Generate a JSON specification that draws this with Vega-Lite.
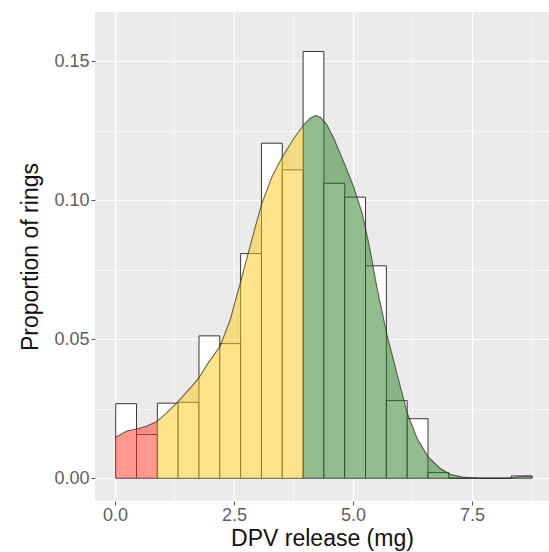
{
  "$schema": "https://vega.github.io/schema/vega-lite/v6.json",
  "width": 454,
  "height": 489,
  "autosize": {"type": "none"},
  "padding": {"left": 95, "top": 12, "right": 0, "bottom": 51},
  "config": {
    "view": {"fill": "#EBEBEB", "stroke": null},
    "font": "Liberation Sans",
    "axis": {
      "grid": true,
      "gridColor": "#FFFFFF",
      "domain": false,
      "tickSize": 4,
      "tickColor": "#555555",
      "labelFontSize": 18,
      "labelColor": "#5E5E5E",
      "labelPadding": 1,
      "titleFontSize": 23,
      "titleFontWeight": "normal",
      "titleColor": "#111111"
    }
  },
  "datasets": {
    "bins": [
      {"x0": 0.015, "x1": 0.4525, "p": 0.0268},
      {"x0": 0.4525, "x1": 0.89, "p": 0.0157},
      {"x0": 0.89, "x1": 1.3275, "p": 0.0270},
      {"x0": 1.3275, "x1": 1.765, "p": 0.0273},
      {"x0": 1.765, "x1": 2.2025, "p": 0.0512},
      {"x0": 2.2025, "x1": 2.64, "p": 0.0484},
      {"x0": 2.64, "x1": 3.0775, "p": 0.0808},
      {"x0": 3.0775, "x1": 3.515, "p": 0.1205},
      {"x0": 3.515, "x1": 3.9525, "p": 0.1109},
      {"x0": 3.9525, "x1": 4.39, "p": 0.1535},
      {"x0": 4.39, "x1": 4.8275, "p": 0.1061},
      {"x0": 4.8275, "x1": 5.265, "p": 0.1011},
      {"x0": 5.265, "x1": 5.7025, "p": 0.0764},
      {"x0": 5.7025, "x1": 6.14, "p": 0.0279},
      {"x0": 6.14, "x1": 6.5775, "p": 0.0214},
      {"x0": 6.5775, "x1": 7.015, "p": 0.0020},
      {"x0": 7.015, "x1": 7.4525, "p": 0},
      {"x0": 7.4525, "x1": 7.89, "p": 0},
      {"x0": 7.89, "x1": 8.3275, "p": 0},
      {"x0": 8.3275, "x1": 8.765, "p": 0.0008}
    ],
    "dens": [
      {"x": 0.015, "d": 0.0147, "region": "low"},
      {"x": 0.25, "d": 0.0170, "region": "low"},
      {"x": 0.45, "d": 0.0177, "region": "low"},
      {"x": 0.66, "d": 0.0187, "region": "low"},
      {"x": 0.89, "d": 0.0205, "region": "low"},
      {"x": 0.89, "d": 0.0205, "region": "mid"},
      {"x": 1.08, "d": 0.0234, "region": "mid"},
      {"x": 1.33, "d": 0.0276, "region": "mid"},
      {"x": 1.58, "d": 0.0324, "region": "mid"},
      {"x": 1.75, "d": 0.0358, "region": "mid"},
      {"x": 1.96, "d": 0.0415, "region": "mid"},
      {"x": 2.21, "d": 0.0475, "region": "mid"},
      {"x": 2.42, "d": 0.0570, "region": "mid"},
      {"x": 2.63, "d": 0.0700, "region": "mid"},
      {"x": 2.80, "d": 0.0810, "region": "mid"},
      {"x": 2.95, "d": 0.0905, "region": "mid"},
      {"x": 3.08, "d": 0.0985, "region": "mid"},
      {"x": 3.30, "d": 0.1085, "region": "mid"},
      {"x": 3.50, "d": 0.1150, "region": "mid"},
      {"x": 3.75, "d": 0.1220, "region": "mid"},
      {"x": 3.9525, "d": 0.1268, "region": "mid"},
      {"x": 3.9525, "d": 0.1268, "region": "high"},
      {"x": 4.10, "d": 0.1295, "region": "high"},
      {"x": 4.22, "d": 0.1305, "region": "high"},
      {"x": 4.32, "d": 0.1298, "region": "high"},
      {"x": 4.45, "d": 0.1272, "region": "high"},
      {"x": 4.60, "d": 0.1222, "region": "high"},
      {"x": 4.80, "d": 0.1140, "region": "high"},
      {"x": 5.01, "d": 0.1050, "region": "high"},
      {"x": 5.20, "d": 0.0950, "region": "high"},
      {"x": 5.35, "d": 0.0830, "region": "high"},
      {"x": 5.50, "d": 0.0690, "region": "high"},
      {"x": 5.71, "d": 0.0520, "region": "high"},
      {"x": 5.95, "d": 0.0360, "region": "high"},
      {"x": 6.14, "d": 0.0235, "region": "high"},
      {"x": 6.35, "d": 0.0143, "region": "high"},
      {"x": 6.58, "d": 0.0077, "region": "high"},
      {"x": 6.83, "d": 0.0036, "region": "high"},
      {"x": 7.04, "d": 0.0014, "region": "high"},
      {"x": 7.30, "d": 0.0004, "region": "high"},
      {"x": 7.60, "d": 0.0001, "region": "high"},
      {"x": 8.00, "d": 0.0000, "region": "high"},
      {"x": 8.30, "d": 0.0001, "region": "high"},
      {"x": 8.50, "d": 0.0005, "region": "high"},
      {"x": 8.65, "d": 0.0008, "region": "high"},
      {"x": 8.765, "d": 0.0006, "region": "high"}
    ]
  },
  "layer": [
    {
      "data": {"name": "bins"},
      "mark": {"type": "rect", "fill": "#FFFFFF", "stroke": "#222222", "strokeWidth": 0.9},
      "encoding": {
        "x": {
          "field": "x0", "type": "quantitative",
          "scale": {"domain": [-0.42, 9.12], "nice": false, "zero": false},
          "axis": {
            "title": "DPV release (mg)",
            "titlePadding": 3,
            "values": [0, 1.25, 2.5, 3.75, 5, 6.25, 7.5, 8.75],
            "labelExpr": "datum.value % 2.5 === 0 ? format(datum.value, '.1f') : ''",
            "gridWidth": {"condition": {"test": "datum.value % 2.5 === 0", "value": 1.2}, "value": 0.6},
            "tickOpacity": {"condition": {"test": "datum.value % 2.5 === 0", "value": 1}, "value": 0}
          }
        },
        "x2": {"field": "x1"},
        "y": {
          "field": "p", "type": "quantitative",
          "scale": {"domain": [-0.0082, 0.1677], "nice": false, "zero": false},
          "axis": {
            "title": "Proportion of rings",
            "titlePadding": 11,
            "labelPadding": 2,
            "values": [0, 0.025, 0.05, 0.075, 0.1, 0.125, 0.15],
            "labelExpr": "abs(datum.value * 20 - round(datum.value * 20)) < 0.000001 ? format(datum.value, '.2f') : ''",
            "gridWidth": {"condition": {"test": "abs(datum.value * 20 - round(datum.value * 20)) < 0.000001", "value": 1.2}, "value": 0.6},
            "tickOpacity": {"condition": {"test": "abs(datum.value * 20 - round(datum.value * 20)) < 0.000001", "value": 1}, "value": 0}
          }
        },
        "y2": {"datum": 0}
      }
    },
    {
      "data": {"name": "dens"},
      "mark": {"type": "area", "opacity": 0.5},
      "encoding": {
        "x": {"field": "x", "type": "quantitative", "axis": {"title": "DPV release (mg)"}},
        "y": {"field": "d", "type": "quantitative", "stack": null, "axis": {"title": "Proportion of rings"}},
        "y2": {"datum": 0},
        "color": {
          "field": "region", "type": "nominal", "legend": null,
          "scale": {"domain": ["low", "mid", "high"], "range": ["#FF331F", "#FBC918", "#237A1B"]}
        }
      }
    },
    {
      "data": {"name": "dens"},
      "mark": {"type": "line", "stroke": "#2E2E1E", "strokeOpacity": 0.7, "strokeWidth": 1.1},
      "encoding": {
        "x": {"field": "x", "type": "quantitative", "axis": {"title": "DPV release (mg)"}},
        "y": {"field": "d", "type": "quantitative", "axis": {"title": "Proportion of rings"}},
        "detail": {"field": "region", "type": "nominal"}
      }
    }
  ]
}
